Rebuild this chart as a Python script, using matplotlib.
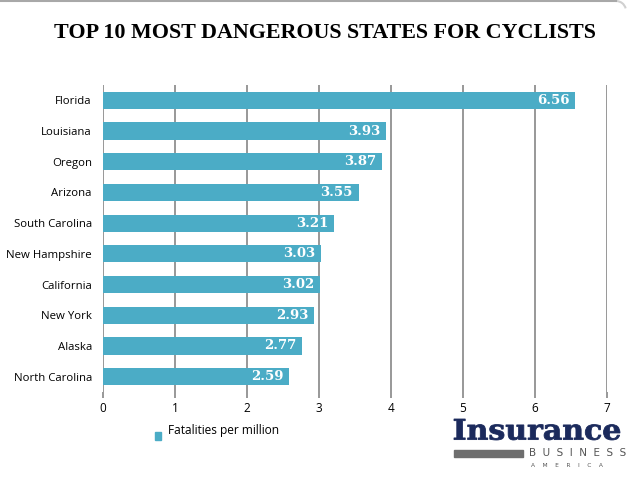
import matplotlib
matplotlib.use("Agg")
import matplotlib.pyplot as plt
from matplotlib.patches import Rectangle, PathPatch, Arc
from matplotlib.lines import Line2D
from matplotlib.textpath import TextPath
from matplotlib.font_manager import FontProperties
from matplotlib.transforms import Affine2D
import numpy as np

# dados
states = ["Florida", "Louisiana", "Oregon", "Arizona", "South Carolina",
          "New Hampshire", "California", "New York", "Alaska", "North Carolina"]
fatalities = [6.56, 3.93, 3.87, 3.55, 3.21, 3.03, 3.02, 2.93, 2.77, 2.59]
x_ticks = [0, 1, 2, 3, 4, 5, 6, 7]

title = "TOP 10 MOST DANGEROUS STATES FOR CYCLISTS"
legend_label = "Fatalities per million"

bar_color = "#4BACC6"
grid_color = "#868686"

W, H = 638, 479
fig = plt.figure(figsize=(W / 100, H / 100), dpi=100)
fig.patch.set_facecolor("white")

# borda superior com canto arredondado (so aparece em cima)
fig.lines.append(Line2D([0, 616 / W], [1 - 1 / H, 1 - 1 / H], transform=fig.transFigure,
                        color="#A8A8A8", linewidth=1.5))
fig.patches.append(Arc((616 / W, 1 - 11 / H), 20 / W, 20 / H, theta1=20, theta2=90,
                       transform=fig.transFigure, color="#D0D0D0", linewidth=1.5))

ax = fig.add_axes([0.1614, 0.1816, 0.79, 0.6409])

y = np.arange(len(states))
ax.barh(y, fatalities, height=0.56, color=bar_color, zorder=3)

for yi, v in zip(y, fatalities):
    ax.text(v - 0.08, yi, f"{v:.2f}", ha="right", va="center",
            color="white", fontsize=9.5, fontweight="bold",
            family="DejaVu Serif", zorder=4)

ax.set_xlim(0, 7)
ax.set_ylim(len(states) - 0.5, -0.5)
ax.set_xticks(x_ticks)
ax.set_yticks(y)
ax.set_yticklabels(states, family="Open Sans", fontsize=8.2)
ax.tick_params(axis="y", length=0, pad=8)
ax.tick_params(axis="x", length=4, color=grid_color, width=1.2, pad=3,
               labelsize=8.5)
for lab in ax.get_xticklabels():
    lab.set_family("Open Sans")

ax.grid(axis="x", color=grid_color, linewidth=1.2, zorder=0)
for s in ax.spines.values():
    s.set_visible(False)

fig.text(0.51, 0.931, title, ha="center", va="center", fontsize=15.8,
         fontweight="bold", family="Liberation Serif")

# legenda
fig.patches.append(Rectangle((0.243, 0.081), 0.010, 0.018,
                             transform=fig.transFigure, color=bar_color))
fig.text(0.263, 0.102, legend_label, ha="left", va="center",
         fontsize=8.6, family="Open Sans")


# logo: texto convertido em caminho e esticado para caber na caixa (pixels)
def text_in_box(s, x0, x1, y_top, y_bot, color, weight="bold", family="DejaVu Serif"):
    tp = TextPath((0, 0), s, size=10, prop=FontProperties(family=family, weight=weight))
    ext = tp.get_extents()
    sx = (x1 - x0) / ext.width
    sy = (y_bot - y_top) / ext.height
    tr = (Affine2D().translate(-ext.x0, -ext.y0).scale(sx, sy)
          .translate(x0, H - y_bot).scale(1 / W, 1 / H))
    fig.patches.append(PathPatch(tr.transform_path(tp), transform=fig.transFigure,
                                 color=color, lw=0.6))


text_in_box("Insurance", 454, 620, 419, 440, "#1B2A5C")
fig.patches.append(Rectangle((454 / W, 1 - 457 / H), 69 / W, 7 / H,
                             transform=fig.transFigure, color="#6E6E6E"))
fig.text(529 / W, 1 - 453.5 / H, "B  U  S  I  N  E  S  S", ha="left", va="center",
         fontsize=7.5, color="#555555", family="DejaVu Sans")
fig.text(531 / W, 1 - 465.5 / H, "A    M    E    R    I    C    A", ha="left", va="center",
         fontsize=4.2, color="#555555", family="DejaVu Sans")

fig.savefig("out.png", dpi=100, facecolor="white")
